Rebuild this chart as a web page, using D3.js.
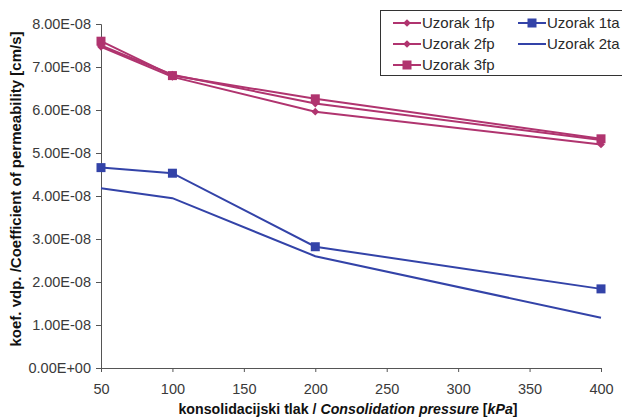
<!DOCTYPE html>
<html><head><meta charset="utf-8">
<script src="https://cdn.jsdelivr.net/npm/d3@7"></script>
<style>body{margin:0;background:#fff}svg{display:block}</style>
</head><body><svg id="c" width="622" height="419"></svg>
<script>
const pressures = [50, 100, 200, 400];
const uzorak1fp = [7.50e-8, 6.82e-8, 6.15e-8, 5.30e-8];
const uzorak2fp = [7.47e-8, 6.77e-8, 5.96e-8, 5.20e-8];
const uzorak3fp = [7.60e-8, 6.80e-8, 6.26e-8, 5.33e-8];
const uzorak1ta = [4.66e-8, 4.53e-8, 2.82e-8, 1.84e-8];
const uzorak2ta = [4.18e-8, 3.95e-8, 2.60e-8, 1.17e-8];
const xTicks = [50, 100, 150, 200, 250, 300, 350, 400];
const yTicks = [0, 1e-8, 2e-8, 3e-8, 4e-8, 5e-8, 6e-8, 7e-8, 8e-8];
const yTickLabels = ["0.00E+00","1.00E-08","2.00E-08","3.00E-08","4.00E-08","5.00E-08","6.00E-08","7.00E-08","8.00E-08"];

const MAG = "#b0346f", BLUE = "#3343a8";
const series = [
  {name:"Uzorak 1fp", vals:uzorak1fp, color:MAG, marker:"diamond"},
  {name:"Uzorak 2fp", vals:uzorak2fp, color:MAG, marker:"diamond"},
  {name:"Uzorak 3fp", vals:uzorak3fp, color:MAG, marker:"square"},
  {name:"Uzorak 1ta", vals:uzorak1ta, color:BLUE, marker:"square"},
  {name:"Uzorak 2ta", vals:uzorak2ta, color:BLUE, marker:null}
];

const svg = d3.select("#c");
const font = "'Liberation Sans', Arial, sans-serif";
const x = d3.scaleLinear().domain([50, 400]).range([101, 601]);
const y = d3.scaleLinear().domain([0, 8e-8]).range([368, 24]);

const xAxis = svg.append("g").attr("transform","translate(0,368)")
  .call(d3.axisBottom(x).tickValues(xTicks).tickSize(4).tickPadding(12).tickFormat(d3.format("d")));
const yAxis = svg.append("g").attr("transform","translate(101,0)")
  .call(d3.axisLeft(y).tickValues(yTicks).tickSize(5).tickPadding(5).tickFormat((d,i)=>yTickLabels[i]));
[xAxis, yAxis].forEach(a=>{
  a.selectAll("path,line").attr("stroke","#555").attr("stroke-width",1);
  a.selectAll("text").attr("fill","#3a3a3a").style("font-family",font).style("font-size","14.5px");
});

const line = d3.line().x((d,i)=>x(pressures[i])).y(d=>y(d));
function drawMarker(g, type, color, cx, cy){
  if(type==="square") g.append("rect").attr("x",cx-4.5).attr("y",cy-4.5).attr("width",9).attr("height",9).attr("fill",color);
  else if(type==="diamond") g.append("path").attr("d",d3.symbol().type(d3.symbolSquare).size(30)()).attr("transform",`translate(${cx},${cy}) rotate(45)`).attr("fill",color);
}
series.slice().reverse().forEach(s=>{
  const g = svg.append("g");
  g.append("path").datum(s.vals).attr("d",line).attr("fill","none").attr("stroke",s.color).attr("stroke-width",2);
  if(s.marker) s.vals.forEach((v,i)=>drawMarker(g, s.marker, s.color, x(pressures[i]), y(v)));
});

// axis titles
svg.append("text").attr("transform","translate(21,189) rotate(-90)").attr("text-anchor","middle")
  .style("font-family",font).style("font-size","15px").style("font-weight","bold").attr("fill","#111")
  .text("koef. vdp. /Coefficient of permeability [cm/s]");
const xt = svg.append("text").attr("x",348).attr("y",414).attr("text-anchor","middle")
  .style("font-family",font).style("font-size","14.2px").style("font-weight","bold").attr("fill","#111");
xt.append("tspan").text("konsolidacijski tlak / ");
xt.append("tspan").style("font-style","italic").text("Consolidation pressure");
xt.append("tspan").text(" [");
xt.append("tspan").style("font-style","italic").text("kPa");
xt.append("tspan").text("]");

// legend
const lg = svg.append("g");
lg.append("rect").attr("x",380.5).attr("y",10.5).attr("width",250).attr("height",65).attr("fill","#fff").attr("stroke","#333").attr("stroke-width",1);
const pos = [[393,23],[393,44],[393,65],[518,23],[518,44]];
series.forEach((s,i)=>{
  const [lx,ly] = pos[i];
  lg.append("line").attr("x1",lx).attr("x2",lx+28).attr("y1",ly).attr("y2",ly).attr("stroke",s.color).attr("stroke-width",2);
  if(s.marker) drawMarker(lg, s.marker, s.color, lx+14, ly);
  lg.append("text").attr("x",lx+29).attr("y",ly+5).style("font-family",font).style("font-size","15px").attr("fill","#2a2a2a").text(s.name);
});
</script></body></html>
